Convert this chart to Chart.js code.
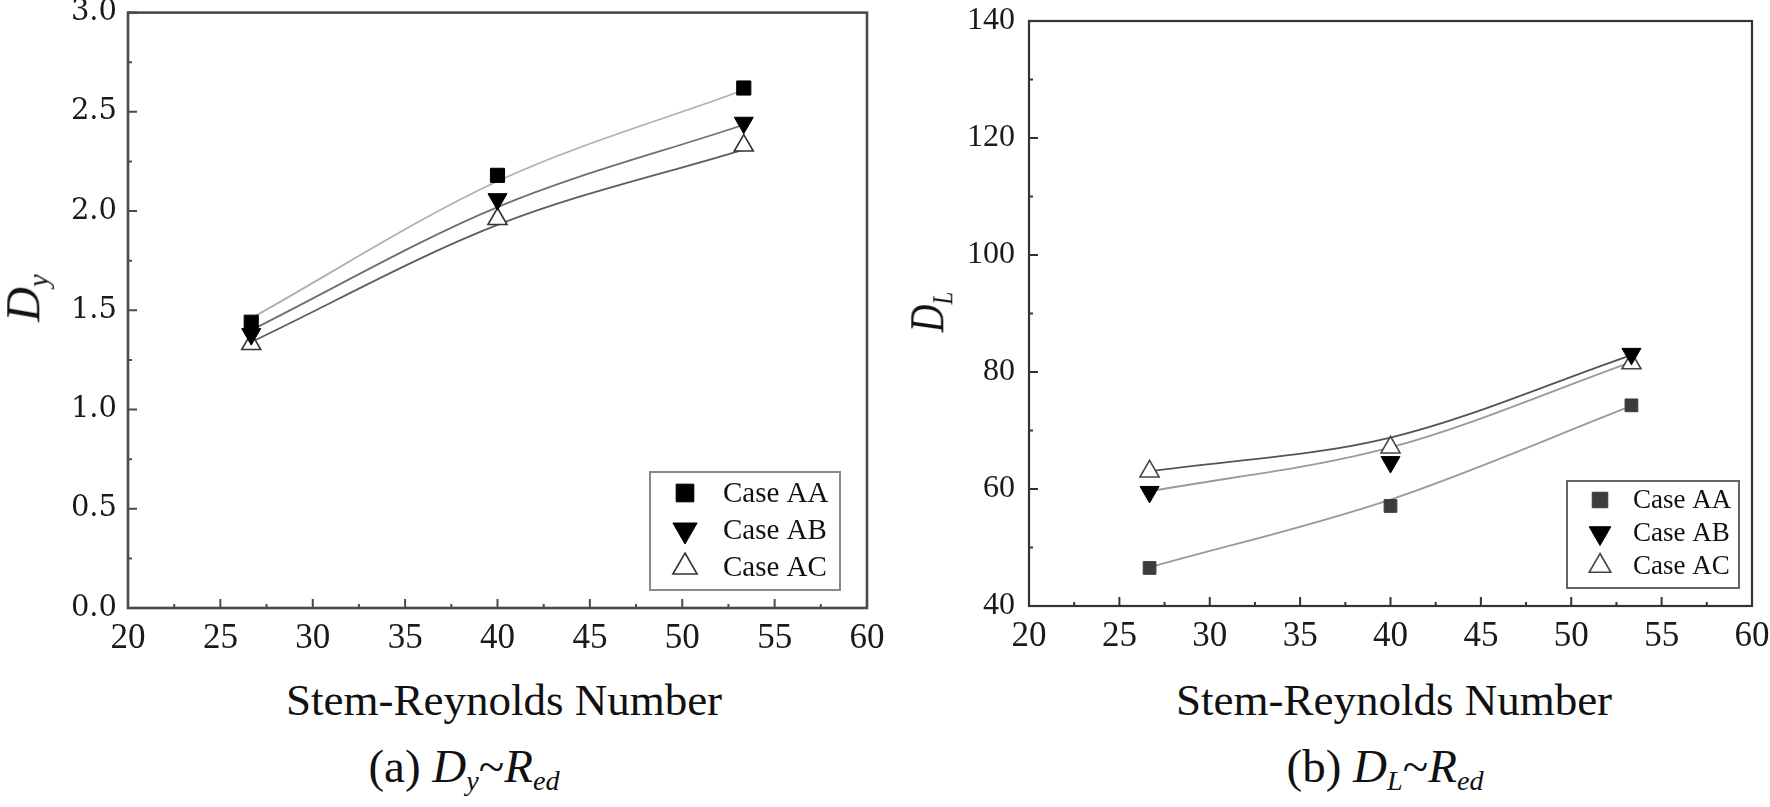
<!DOCTYPE html>
<html>
<head>
<meta charset="utf-8">
<script src="https://cdn.jsdelivr.net/npm/chart.js@4.4.0/dist/chart.umd.min.js"></script>
<style>
    body { margin: 0; background: #fff; }
    #page { position: relative; width: 1770px; height: 807px; overflow: hidden; background: #fff;
            font-family: "Liberation Serif", "Times New Roman", serif; color: #111; }
    .wrap { position: absolute; top: 0; height: 660px; }
    .txt { position: absolute; white-space: nowrap; line-height: 1; transform: translate(-50%, -50%); }
    .txt i { font-style: italic; }
    .txt sub { font-size: 0.6em; vertical-align: -0.3em; }
    .ytitle { position: absolute; white-space: nowrap; line-height: 1; font-size: 48px; }
</style>
</head>
<body>
<div id="page">
    <div class="wrap" style="left:0; width:890px;"><canvas id="chartDy"></canvas></div>
    <div class="wrap" style="left:890px; width:880px;"><canvas id="chartDl"></canvas></div>

    <div class="ytitle" style="left:26px; top:298px; transform: translate(-50%, -50%) rotate(-90deg);"><i>D<sub style="font-size:0.6em; vertical-align:-0.3em;">y</sub></i></div>
    <div class="ytitle" style="left:930px; top:312px; transform: translate(-50%, -50%) rotate(-90deg) scaleX(0.8);"><i>D<sub style="font-size:0.6em; vertical-align:-0.3em;">L</sub></i></div>

    <div class="txt" style="left:504px; top:700px; font-size:45px;">Stem-Reynolds Number</div>
    <div class="txt" style="left:1394px; top:700px; font-size:45px;">Stem-Reynolds Number</div>

    <div class="txt" style="left:464px; top:769px; font-size:47px;">(a) <i>D<sub>y</sub></i>~<i>R<sub>ed</sub></i></div>
    <div class="txt" style="left:1385px; top:769px; font-size:47px;">(b) <i>D<sub>L</sub></i>~<i>R<sub>ed</sub></i></div>
</div>

<script>
// 茎秆雷诺数 (横轴)
const reNumbers = [26.67, 40, 53.33];
const caseLabels = ['Case AA', 'Case AB', 'Case AC'];

// (a) Dy 实测点
const dyAA = [1.44, 2.18, 2.62];
const dyAB = [1.38, 2.06, 2.445];
const dyAC = [1.33, 1.96, 2.33];
// (a) Dy 拟合曲线
const dyFitAA = [1.46, 2.15, 2.61];
const dyFitAB = [1.40, 2.02, 2.435];
const dyFitAC = [1.34, 1.93, 2.31];

// (b) DL 实测点
const dlAA = [46.5, 57.1, 74.3];
const dlAB = [59.5, 64.6, 83.1];
const dlAC = [63.0, 67.1, 81.5];
// (b) DL 拟合曲线
const dlFitAA = [46.6, 58.2, 74.2];
const dlFitAB = [59.6, 67.1, 81.7];
const dlFitAC = [63.0, 68.8, 82.9];

// 刻度范围
const xTickRange = { min: 20, max: 60, step: 5 };
const dyTickRange = { min: 0, max: 3, step: 0.5 };
const dlTickRange = { min: 40, max: 140, step: 20 };

const SERIF = '"Liberation Serif", "Times New Roman", serif';

function toPoints(ys) {
    return reNumbers.map((x, i) => ({ x: x, y: ys[i] }));
}

// ============================ 边框 + 向内刻度 ============================
const frameTicks = {
    id: 'frameTicks',
    afterDatasetsDraw(chart, args, opts) {
        const { ctx, chartArea: a, scales } = chart;
        ctx.save();
        ctx.strokeStyle = opts.color;
        ctx.lineWidth = opts.tickWidth;
        ctx.beginPath();
        ['x', 'y'].forEach(id => {
            const s = scales[id];
            const vals = s.ticks.map(t => t.value);
            vals.forEach((v, i) => {
                const p = s.getPixelForValue(v);
                if (id === 'x') { ctx.moveTo(p, a.bottom); ctx.lineTo(p, a.bottom - opts.major); }
                else { ctx.moveTo(a.left, p); ctx.lineTo(a.left + opts.major, p); }
                if (i < vals.length - 1) {
                    const m = s.getPixelForValue((v + vals[i + 1]) / 2);
                    if (id === 'x') { ctx.moveTo(m, a.bottom); ctx.lineTo(m, a.bottom - opts.minor); }
                    else { ctx.moveTo(a.left, m); ctx.lineTo(a.left + opts.minor, m); }
                }
            });
        });
        ctx.stroke();
        ctx.lineWidth = opts.frameWidth;
        ctx.strokeRect(a.left, a.top, a.right - a.left, a.bottom - a.top);
        ctx.restore();
    }
};

// ============================ 图例框 ============================
const boxLegend = {
    id: 'boxLegend',
    afterDraw(chart, args, o) {
        const { ctx, chartArea: a } = chart;
        const x0 = a.right - o.right - o.width;
        const y0 = a.bottom - o.bottom - o.height;
        ctx.save();
        ctx.fillStyle = '#fff';
        ctx.fillRect(x0, y0, o.width, o.height);
        ctx.strokeStyle = o.borderColor;
        ctx.lineWidth = o.borderWidth;
        ctx.strokeRect(x0, y0, o.width, o.height);

        const items = chart.data.datasets.filter(d => !d.isFit);
        items.forEach((d, i) => {
            const cy = y0 + o.firstRow + i * o.rowGap;
            const cx = x0 + o.markerX;
            ctx.fillStyle = d.pointBackgroundColor;
            ctx.strokeStyle = d.pointBorderColor;
            ctx.lineWidth = d.pointBorderWidth;
            Chart.helpers.drawPoint(ctx, {
                pointStyle: d.pointStyle,
                rotation: d.pointRotation || 0,
                radius: d.pointStyle === 'rect' ? o.rectRadius : o.triRadius,
                borderWidth: d.pointBorderWidth
            }, cx, cy);
            ctx.fillStyle = o.textColor;
            ctx.font = o.font;
            ctx.textBaseline = 'middle';
            ctx.textAlign = 'left';
            ctx.fillText(d.label, x0 + o.textX, cy + 1);
        });
        ctx.restore();
    }
};

function markerSet(label, ys, style, rotation, fill, border, radius) {
    return {
        label: label,
        data: toPoints(ys),
        showLine: false,
        pointStyle: style,
        pointRotation: rotation,
        pointRadius: radius,
        pointBackgroundColor: fill,
        pointBorderColor: border,
        pointBorderWidth: style === 'triangle' && fill === '#ffffff' ? 1.6 : 1,
        order: 0
    };
}

function fitSet(label, ys, color) {
    return {
        label: label,
        isFit: true,
        data: toPoints(ys),
        showLine: true,
        borderColor: color,
        borderWidth: 1.8,
        pointRadius: 0,
        cubicInterpolationMode: 'monotone',
        order: 1
    };
}

function buildChart(canvasId, cfg) {
    const ctx = document.getElementById(canvasId).getContext('2d');
    return new Chart(ctx, {
        type: 'scatter',
        data: { datasets: cfg.datasets },
        options: {
            responsive: true,
            maintainAspectRatio: false,
            animation: false,
            layout: { padding: cfg.padding },
            plugins: {
                legend: { display: false },
                tooltip: { enabled: false },
                frameTicks: cfg.frame,
                boxLegend: cfg.legend
            },
            scales: {
                x: {
                    type: 'linear',
                    min: xTickRange.min,
                    max: xTickRange.max,
                    grid: { display: false, drawTicks: false },
                    border: { display: false },
                    ticks: {
                        stepSize: xTickRange.step,
                        autoSkip: false,
                        maxRotation: 0,
                        padding: 10,
                        color: '#1a1a1a',
                        font: { family: SERIF, size: 35 }
                    },
                    afterFit: s => { s.height = cfg.xHeight; s.paddingLeft = 0; s.paddingRight = 0; }
                },
                y: {
                    type: 'linear',
                    min: cfg.yRange.min,
                    max: cfg.yRange.max,
                    grid: { display: false, drawTicks: false },
                    border: { display: false },
                    ticks: {
                        stepSize: cfg.yRange.step,
                        autoSkip: false,
                        padding: cfg.yPad,
                        color: '#1a1a1a',
                        font: cfg.yFont,
                        callback: cfg.yFormat
                    },
                    afterFit: s => { s.width = cfg.yWidth; s.paddingTop = 0; s.paddingBottom = 0; }
                }
            }
        },
        plugins: [frameTicks, boxLegend]
    });
}

// (a) Dy ~ Red
buildChart('chartDy', {
    datasets: [
        markerSet(caseLabels[0], dyAA, 'rect', 0, '#000000', '#000000', 10),
        markerSet(caseLabels[1], dyAB, 'triangle', 180, '#000000', '#000000', 11),
        markerSet(caseLabels[2], dyAC, 'triangle', 0, '#ffffff', '#333333', 11),
        fitSet('fit AA', dyFitAA, '#b0b0b0'),
        fitSet('fit AB', dyFitAB, '#707070'),
        fitSet('fit AC', dyFitAC, '#5e5e5e')
    ],
    padding: { top: 12, right: 23, left: 0, bottom: 0 },
    xHeight: 52,
    yWidth: 128,
    yPad: 11,
    yRange: dyTickRange,
    yFont: { family: '"DejaVu Serif", serif', size: 29 },
    yFormat: v => v.toFixed(1),
    frame: { color: '#4a4a4a', frameWidth: 2.6, tickWidth: 2, major: 9, minor: 4 },
    legend: {
        right: 27, bottom: 18, width: 190, height: 118,
        firstRow: 21, rowGap: 37, markerX: 35, textX: 73,
        rectRadius: 12.5, triRadius: 14,
        borderColor: '#8a8a8a', borderWidth: 2,
        textColor: '#111', font: '29px "Liberation Serif"'
    }
});

// (b) DL ~ Red
buildChart('chartDl', {
    datasets: [
        markerSet(caseLabels[0], dlAA, 'rect', 0, '#3c3c3c', '#3c3c3c', 9),
        markerSet(caseLabels[1], dlAB, 'triangle', 180, '#000000', '#000000', 11),
        markerSet(caseLabels[2], dlAC, 'triangle', 0, '#ffffff', '#444444', 11),
        fitSet('fit AA', dlFitAA, '#9a9a9a'),
        fitSet('fit AB', dlFitAB, '#9a9a9a'),
        fitSet('fit AC', dlFitAC, '#555555')
    ],
    padding: { top: 21, right: 18, left: 0, bottom: 0 },
    xHeight: 54,
    yWidth: 139,
    yPad: 14,
    yRange: dlTickRange,
    yFont: { family: SERIF, size: 32 },
    yFormat: v => String(v),
    frame: { color: '#333333', frameWidth: 2.2, tickWidth: 2, major: 9, minor: 4 },
    legend: {
        right: 13, bottom: 18, width: 172, height: 107,
        firstRow: 19, rowGap: 33, markerX: 33, textX: 66,
        rectRadius: 11, triRadius: 12.5,
        borderColor: '#666666', borderWidth: 2,
        textColor: '#111', font: '27px "Liberation Serif"'
    }
});
</script>
</body>
</html>
